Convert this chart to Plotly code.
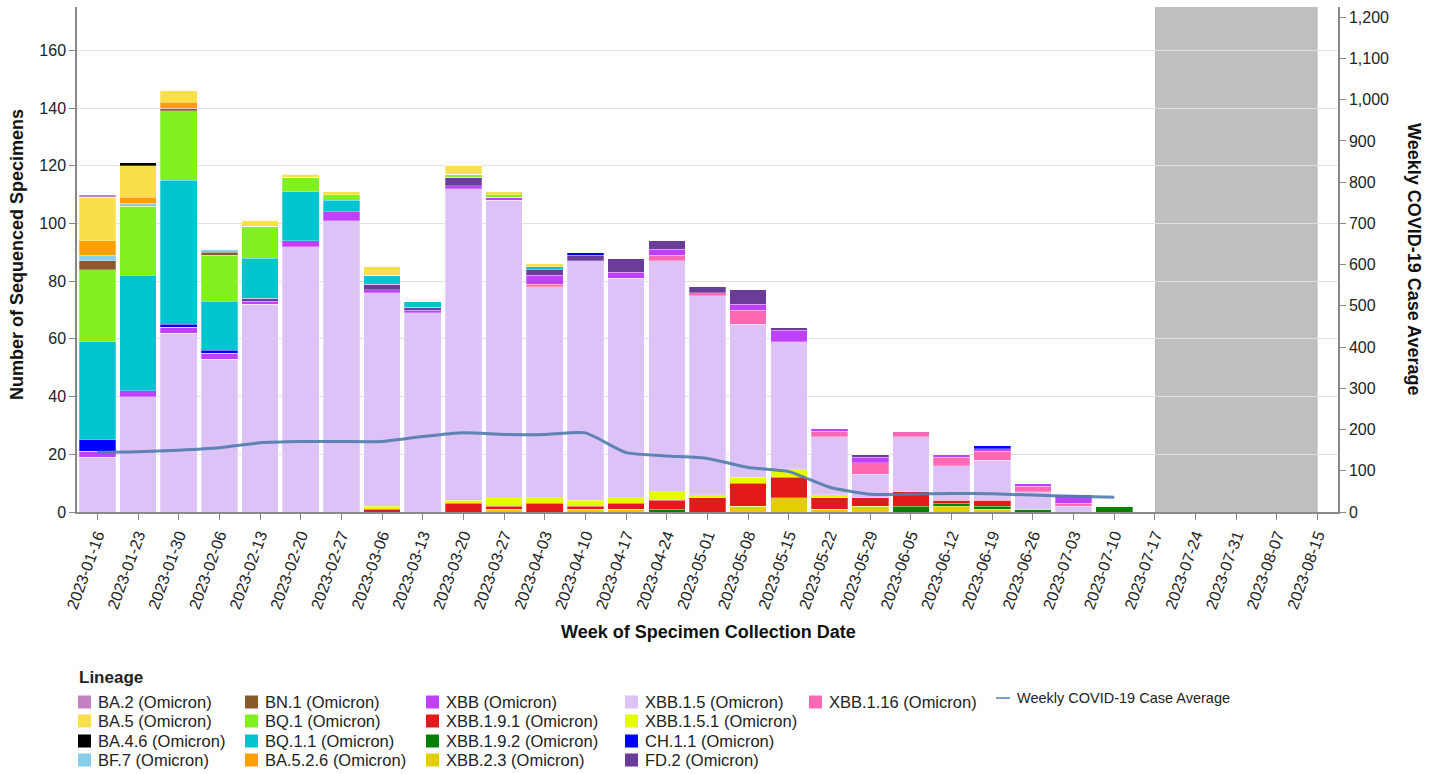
import plotly.graph_objects as go

weeks = ["2023-01-16", "2023-01-23", "2023-01-30", "2023-02-06", "2023-02-13", "2023-02-20",
         "2023-02-27", "2023-03-06", "2023-03-13", "2023-03-20", "2023-03-27", "2023-04-03",
         "2023-04-10", "2023-04-17", "2023-04-24", "2023-05-01", "2023-05-08", "2023-05-15",
         "2023-05-22", "2023-05-29", "2023-06-05", "2023-06-12", "2023-06-19", "2023-06-26",
         "2023-07-03", "2023-07-10", "2023-07-17", "2023-07-24", "2023-07-31", "2023-08-07",
         "2023-08-15"]
data_weeks = weeks[:26]

# stacked bottom -> top
xbb_2_3   = [0, 0, 0, 0, 0, 0, 0, 0, 0, 0, 1, 0, 1, 1, 0, 0, 2, 5, 1, 2, 0, 2, 1, 0, 0, 0]
xbb_1_9_2 = [0, 0, 0, 0, 0, 0, 0, 0, 0, 0, 0, 0, 0, 0, 1, 0, 0, 0, 0, 0, 2, 1, 1, 1, 0, 2]
xbb_1_9_1 = [0, 0, 0, 0, 0, 0, 0, 1, 0, 3, 1, 3, 1, 2, 3, 5, 8, 7, 4, 3, 5, 1, 2, 0, 0, 0]
xbb_1_5_1 = [0, 0, 0, 0, 0, 0, 0, 1, 0, 1, 3, 2, 2, 2, 3, 1, 2, 3, 1, 0, 0, 0, 0, 0, 0, 0]
xbb_1_5   = [19, 40, 62, 53, 72, 92, 101, 74, 69, 108, 103, 73, 83, 76, 80, 69, 53, 44, 20, 8, 19, 12, 14, 6, 2, 0]
xbb_1_16  = [0, 0, 0, 0, 0, 0, 0, 0, 0, 0, 0, 1, 0, 0, 2, 1, 5, 0, 2, 4, 2, 3, 3, 2, 1, 0]
xbb       = [2, 2, 2, 2, 1, 2, 3, 1, 1, 1, 1, 3, 0, 2, 2, 0, 2, 4, 1, 2, 0, 1, 1, 1, 3, 0]
fd_2      = [0, 0, 0, 0, 1, 0, 0, 2, 1, 3, 0, 2, 2, 5, 3, 2, 5, 1, 0, 1, 0, 0, 0, 0, 0, 0]
ch_1_1    = [4, 0, 1, 1, 0, 0, 0, 0, 0, 0, 0, 0, 1, 0, 0, 0, 0, 0, 0, 0, 0, 0, 1, 0, 0, 0]
bq_1_1    = [34, 40, 50, 17, 14, 17, 4, 3, 2, 0, 0, 1, 0, 0, 0, 0, 0, 0, 0, 0, 0, 0, 0, 0, 0, 0]
bq_1      = [25, 24, 24, 16, 11, 5, 2, 0, 0, 1, 1, 0, 0, 0, 0, 0, 0, 0, 0, 0, 0, 0, 0, 0, 0, 0]
bn_1      = [3, 0, 1, 1, 0, 0, 0, 0, 0, 0, 0, 0, 0, 0, 0, 0, 0, 0, 0, 0, 0, 0, 0, 0, 0, 0]
bf_7      = [2, 1, 0, 1, 0, 0, 0, 0, 0, 0, 0, 0, 0, 0, 0, 0, 0, 0, 0, 0, 0, 0, 0, 0, 0, 0]
ba_5_2_6  = [5, 2, 2, 0, 0, 0, 0, 0, 0, 0, 0, 0, 0, 0, 0, 0, 0, 0, 0, 0, 0, 0, 0, 0, 0, 0]
ba_5      = [15, 11, 4, 0, 2, 1, 1, 3, 0, 3, 1, 1, 0, 0, 0, 0, 0, 0, 0, 0, 0, 0, 0, 0, 0, 0]
ba_4_6    = [0, 1, 0, 0, 0, 0, 0, 0, 0, 0, 0, 0, 0, 0, 0, 0, 0, 0, 0, 0, 0, 0, 0, 0, 0, 0]
ba_2      = [1, 0, 0, 0, 0, 0, 0, 0, 0, 0, 0, 0, 0, 0, 0, 0, 0, 0, 0, 0, 0, 0, 0, 0, 0, 0]

case_avg = [145, 146, 150, 156, 168, 171, 171, 171, 183, 192, 188, 188, 192, 144, 136, 130,
            108, 98, 60, 43, 43, 45, 44, 41, 38, 36]

series = [
    ("XBB.2.3 (Omicron)", xbb_2_3, "#e3cf00"),
    ("XBB.1.9.2 (Omicron)", xbb_1_9_2, "#008000"),
    ("XBB.1.9.1 (Omicron)", xbb_1_9_1, "#e31a1c"),
    ("XBB.1.5.1 (Omicron)", xbb_1_5_1, "#e4fb00"),
    ("XBB.1.5 (Omicron)", xbb_1_5, "#dcc2f7"),
    ("XBB.1.16 (Omicron)", xbb_1_16, "#ff69b4"),
    ("XBB (Omicron)", xbb, "#c040ff"),
    ("FD.2 (Omicron)", fd_2, "#6a3d9a"),
    ("CH.1.1 (Omicron)", ch_1_1, "#0000ff"),
    ("BQ.1.1 (Omicron)", bq_1_1, "#00c4cf"),
    ("BQ.1 (Omicron)", bq_1, "#80f01e"),
    ("BN.1 (Omicron)", bn_1, "#8b5a2b"),
    ("BF.7 (Omicron)", bf_7, "#87ceeb"),
    ("BA.5.2.6 (Omicron)", ba_5_2_6, "#ff9f00"),
    ("BA.5 (Omicron)", ba_5, "#f9e04b"),
    ("BA.4.6 (Omicron)", ba_4_6, "#000000"),
    ("BA.2 (Omicron)", ba_2, "#c082c0"),
]

legend_columns = [
    ["BA.2 (Omicron)", "BA.5 (Omicron)", "BA.4.6 (Omicron)", "BF.7 (Omicron)"],
    ["BN.1 (Omicron)", "BQ.1 (Omicron)", "BQ.1.1 (Omicron)", "BA.5.2.6 (Omicron)"],
    ["XBB (Omicron)", "XBB.1.9.1 (Omicron)", "XBB.1.9.2 (Omicron)", "XBB.2.3 (Omicron)"],
    ["XBB.1.5 (Omicron)", "XBB.1.5.1 (Omicron)", "CH.1.1 (Omicron)", "FD.2 (Omicron)"],
    ["XBB.1.16 (Omicron)"],
]
line_name = "Weekly COVID-19 Case Average"
line_color = "#4f7dad"

FONT = "Arial, Liberation Sans, sans-serif"
W, H = 1440, 774
L, R, T, B = 77, 102, 7, 262
PW, PH = W - L - R, H - T - B


def px(x):
    return (x - L) / PW


def py(y):
    return (H - B - y) / PH


fig = go.Figure()
for name, vals, color in series:
    fig.add_trace(go.Bar(x=data_weeks, y=vals, name=name, marker_color=color,
                         marker_line=dict(width=0.6, color="rgba(255,255,255,0.45)"),
                         showlegend=False))

fig.add_trace(go.Scatter(x=data_weeks, y=case_avg, name=line_name, yaxis="y2",
                         mode="lines", line=dict(color=line_color, width=3, shape="spline",
                                                 smoothing=0.5),
                         opacity=0.9, showlegend=False))

shapes = [dict(type="rect", xref="x", yref="paper", x0="2023-07-17", x1="2023-08-15",
               y0=0, y1=1, fillcolor="#bfbfbf", line=dict(width=0), layer="below")]
annotations = []

# custom legend
color_of = {n: c for n, _, c in series}
col_sq_x = [78, 245, 426, 625, 809]
row_y = [702, 721, 741, 760]
for ci, col in enumerate(legend_columns):
    for ri, name in enumerate(col):
        x0 = col_sq_x[ci]
        yc = row_y[ri]
        shapes.append(dict(type="rect", xref="paper", yref="paper",
                           x0=px(x0), x1=px(x0 + 13), y0=py(yc + 6.5), y1=py(yc - 6.5),
                           fillcolor=color_of[name], line=dict(width=0)))
        annotations.append(dict(xref="paper", yref="paper", x=px(x0 + 18), y=py(yc),
                                xanchor="left", yanchor="middle", showarrow=False, text=name,
                                font=dict(family=FONT, size=16.5, color="#222")))
shapes.append(dict(type="line", xref="paper", yref="paper", x0=px(996), x1=px(1010),
                   y0=py(698), y1=py(698), line=dict(color="#7f9fca", width=2)))
annotations.append(dict(xref="paper", yref="paper", x=px(1015), y=py(698), xanchor="left",
                        yanchor="middle", showarrow=False, text=line_name,
                        font=dict(family=FONT, size=14.5, color="#222")))
annotations.append(dict(xref="paper", yref="paper", x=px(77), y=py(677), xanchor="left",
                        yanchor="middle", showarrow=False, text="<b>Lineage</b>",
                        font=dict(family=FONT, size=17, color="#222")))

# axis titles
annotations.append(dict(xref="paper", yref="paper", x=px(708), y=py(632), xanchor="center",
                        yanchor="middle", showarrow=False,
                        text="<b>Week of Specimen Collection Date</b>",
                        font=dict(family=FONT, size=18, color="#111")))
annotations.append(dict(xref="paper", yref="paper", x=px(17), y=py(255), xanchor="center",
                        yanchor="middle", showarrow=False, textangle=-90,
                        text="<b>Number of Sequenced Specimens</b>",
                        font=dict(family=FONT, size=18, color="#111")))
annotations.append(dict(xref="paper", yref="paper", x=px(1414), y=py(259), xanchor="center",
                        yanchor="middle", showarrow=False, textangle=90,
                        text="<b>Weekly COVID-19 Case Average</b>",
                        font=dict(family=FONT, size=18, color="#111")))

fig.update_layout(
    width=W, height=H,
    margin=dict(l=L, r=R, t=T, b=B, autoexpand=False),
    barmode="stack", bargap=0.1,
    plot_bgcolor="white", paper_bgcolor="white",
    font=dict(family=FONT, size=16, color="#222"),
    showlegend=False,
    shapes=shapes, annotations=annotations,
    xaxis=dict(type="category", categoryorder="array", categoryarray=weeks,
               tickvals=weeks, range=[-0.5, 30.5], tickangle=-70,
               showline=True, linecolor="#888", linewidth=1.5, ticks="outside",
               ticklen=6, tickcolor="#888", showgrid=False, zeroline=False,
               tickfont=dict(size=16, color="#222")),
    yaxis=dict(range=[0, 175], dtick=20, showline=True, linecolor="#888", linewidth=1.5,
               ticks="outside", ticklen=6, tickcolor="#888", gridcolor="#e0e0e0",
               zeroline=False, tickfont=dict(size=16, color="#222")),
    yaxis2=dict(range=[0, 1225], dtick=100, overlaying="y", side="right", tickformat=",",
                showline=True, linecolor="#888", linewidth=1.5, ticks="outside", ticklen=6,
                tickcolor="#888", showgrid=False, zeroline=False,
                tickfont=dict(size=16, color="#222")),
)

fig.write_html("out.html", config={"displayModeBar": False},
               post_script="document.body.style.margin='0px';")
